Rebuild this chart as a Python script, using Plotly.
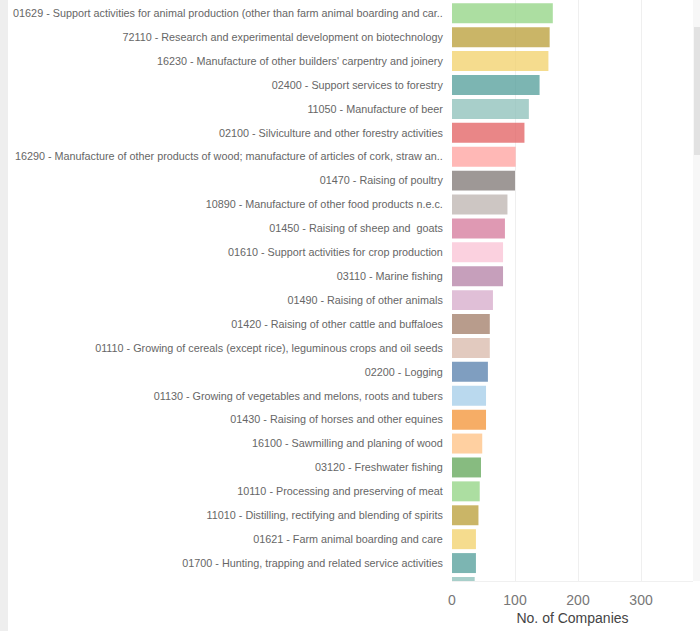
import plotly.graph_objects as go

categories = [
    "01629 - Support activities for animal production (other than farm animal boarding and car..",
    "72110 - Research and experimental development on biotechnology",
    "16230 - Manufacture of other builders' carpentry and joinery",
    "02400 - Support services to forestry",
    "11050 - Manufacture of beer",
    "02100 - Silviculture and other forestry activities",
    "16290 - Manufacture of other products of wood; manufacture of articles of cork, straw an..",
    "01470 - Raising of poultry",
    "10890 - Manufacture of other food products n.e.c.",
    "01450 - Raising of sheep and  goats",
    "01610 - Support activities for crop production",
    "03110 - Marine fishing",
    "01490 - Raising of other animals",
    "01420 - Raising of other cattle and buffaloes",
    "01110 - Growing of cereals (except rice), leguminous crops and oil seeds",
    "02200 - Logging",
    "01130 - Growing of vegetables and melons, roots and tubers",
    "01430 - Raising of horses and other equines",
    "16100 - Sawmilling and planing of wood",
    "03120 - Freshwater fishing",
    "10110 - Processing and preserving of meat",
    "11010 - Distilling, rectifying and blending of spirits",
    "01621 - Farm animal boarding and care",
    "01700 - Hunting, trapping and related service activities",
    "…",
]
companies = [160, 155, 153, 139, 122, 115, 101, 100, 88, 84, 81, 81, 65, 60, 60,
             57, 54, 54, 48, 46, 44, 42, 38, 38, 36]

palette = ["#8CD17D", "#B6992D", "#F1CE63", "#499894", "#86BCB6", "#E15759",
           "#FF9D9A", "#79706E", "#BAB0AC", "#D37295", "#FABFD2", "#B07AA1",
           "#D4A6C8", "#9D7660", "#D7B5A6", "#4E79A7", "#A0CBE8", "#F28E2B",
           "#FFBE7D", "#59A14F"]
colors = [palette[i % len(palette)] for i in range(len(categories))]

fig = go.Figure(go.Bar(
    x=companies, y=categories, orientation="h",
    marker=dict(color=colors, opacity=0.72, line=dict(width=0)),
    hoverinfo="x+y",
))

W, H = 700, 631
L, R, T, B = 452, 7, 0, 50
pw = W - L - R

fig.update_layout(
    width=W, height=H,
    margin=dict(l=L, r=R, t=T, b=B, pad=0),
    paper_bgcolor="white", plot_bgcolor="white",
    bargap=0.165,
    showlegend=False,
    font=dict(family="Liberation Sans, Arial, sans-serif", color="#666666"),
    xaxis=dict(
        range=[0, 382.5], tickvals=[0, 100, 200, 300],
        showgrid=True, gridcolor="#efefef", gridwidth=1,
        zeroline=False, showline=True, linecolor="#f0f0f0",
        tickfont=dict(size=14, color="#777777"),
        ticks="outside", ticklen=6, tickcolor="rgba(0,0,0,0)",
        title=dict(text="No. of Companies", font=dict(size=14, color="#444444"), standoff=6),
        automargin=False,
    ),
    yaxis=dict(
        type="category", range=[23.75, -0.556],
        showgrid=False, zeroline=False, showline=False,
        tickfont=dict(size=10.8, color="#666666"),
        ticks="outside", ticklen=6, tickcolor="rgba(0,0,0,0)",
        automargin=False,
    ),
)

def px_to_paper_x(px):
    return (px - L) / pw

ph = H - T - B
def px_to_paper_y(py):
    return 1 - (py - T) / ph

shapes = [
    # left strip from neighbouring visual
    dict(type="rect", xref="paper", yref="paper",
         x0=px_to_paper_x(0), x1=px_to_paper_x(8),
         y0=px_to_paper_y(631), y1=px_to_paper_y(0),
         fillcolor="#eeeeee", line=dict(width=0), layer="below"),
    # scrollbar track
    dict(type="rect", xref="paper", yref="paper",
         x0=px_to_paper_x(693), x1=px_to_paper_x(700),
         y0=px_to_paper_y(581), y1=px_to_paper_y(0),
         fillcolor="#f7f7f7", line=dict(width=0)),
    # scrollbar thumb
    dict(type="rect", xref="paper", yref="paper",
         x0=px_to_paper_x(694), x1=px_to_paper_x(700),
         y0=px_to_paper_y(155), y1=px_to_paper_y(27),
         fillcolor="#e2e2e2", line=dict(width=0)),
]
fig.update_layout(shapes=shapes)

fig.write_html("out.html",
               config={"displayModeBar": False},
               post_script="document.body.style.margin='0px';document.body.style.overflow='hidden';")
